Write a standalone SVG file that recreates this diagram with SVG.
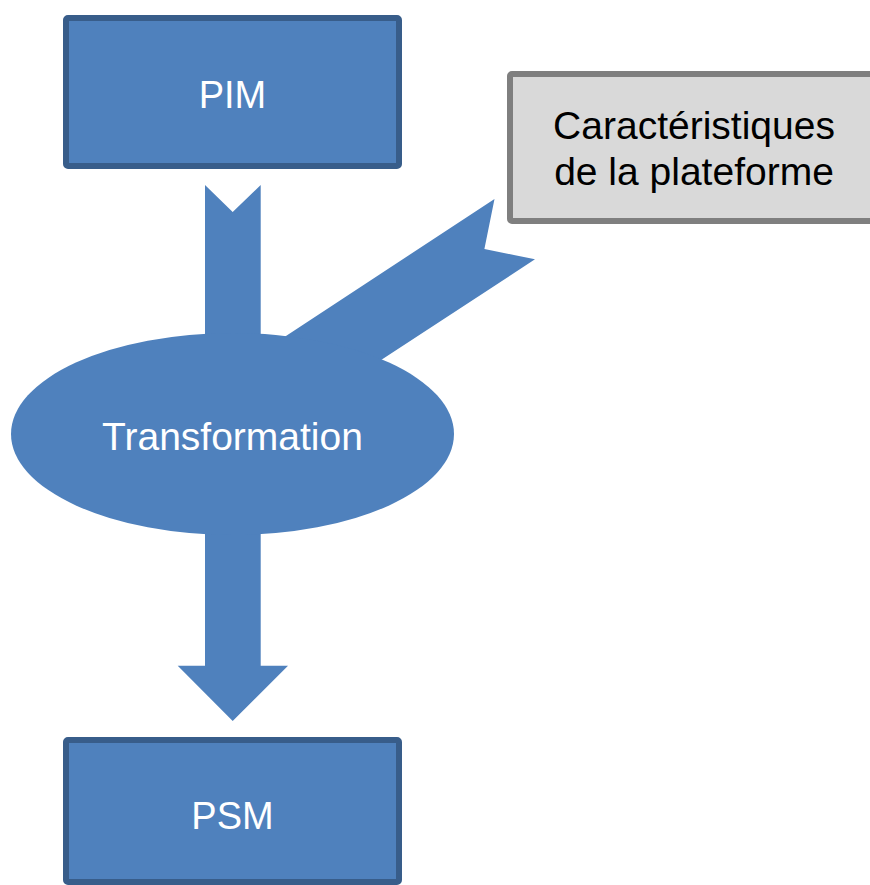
<svg xmlns="http://www.w3.org/2000/svg" width="870" height="885" viewBox="0 0 870 885">
<style>
.blue{fill:#4F81BD}
.box{fill:#4F81BD;stroke:#385D8A;stroke-width:6}
.gbox{fill:#D9D9D9;stroke:#7F7F7F;stroke-width:6}
.wt{font-family:"Liberation Sans",Arial,sans-serif;font-size:38px;fill:#FFFFFF;text-anchor:middle}
.big{font-size:39px}
.bt{font-family:"Liberation Sans",Arial,sans-serif;font-size:39px;fill:#000000;text-anchor:middle}
</style>
<rect width="870" height="885" fill="#FFFFFF"/>
<g id="connectors">
<polygon class="blue" points="205,185 232.7,212 260.7,185 260.7,400 205,400"/>
<polygon class="blue" points="494.5,199 484.4,249 535,259.3 326,396 243.7,363.7"/>
<polygon class="blue" points="205,480 260.7,480 260.7,665.7 288,665.7 232.7,721 177.7,665.7 205,665.7"/>
</g>
<g id="pim">
<rect class="box" x="66" y="18" width="333" height="148" rx="2"/>
<text class="wt" x="232.5" y="107.5">PIM</text>
</g>
<g id="plateforme">
<rect class="gbox" x="510" y="74" width="380" height="147" rx="2"/>
<text class="bt" x="694" y="139">Caractéristiques</text>
<text class="bt" x="694" y="185">de la plateforme</text>
</g>
<g id="transformation">
<ellipse class="blue" cx="232.5" cy="434" rx="221.5" ry="101"/>
<text class="wt big" x="232.5" y="449.5">Transformation</text>
</g>
<g id="psm">
<rect class="box" x="66" y="740" width="333" height="142" rx="2"/>
<text class="wt" x="232.5" y="828.5">PSM</text>
</g>
</svg>
